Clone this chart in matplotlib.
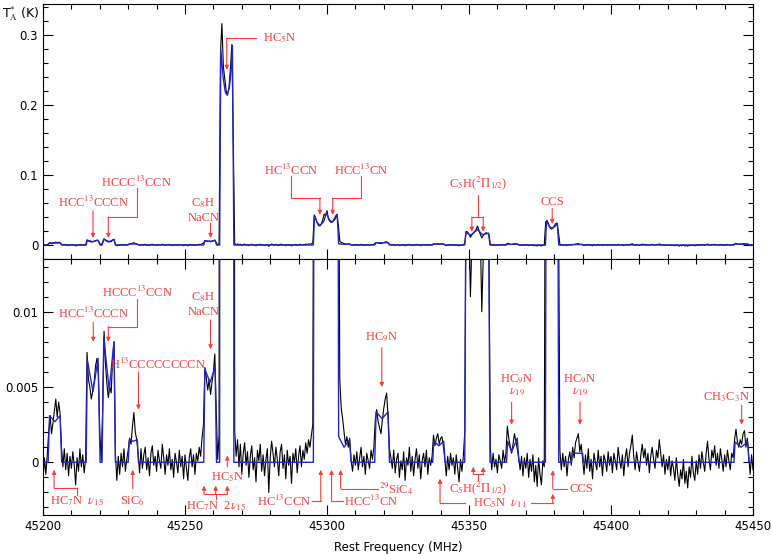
import numpy as np
import matplotlib
matplotlib.use("Agg")
import matplotlib.pyplot as plt
from matplotlib.ticker import MultipleLocator

# observed spectrum, mK, 0.5 MHz channels starting at 45200 MHz
chan0_mhz = 45200.0
chan_mhz = 0.5
obs_mk = [
    -1.2, 0.3, -0.8, 0.5, 2.0, 3.1, 1.9, 2.6, 3.4, 4.2, 3.0, 4.0, 3.3, 1.0, -0.3, 0.9, -0.5, 0.6, -0.9, 0.4,
    -0.4, 0.7, -0.2, -1.5, 0.3, -0.6, 0.9, -0.3, 0.5, -0.7, 0.2, 7.3, 5.5, 5.0, 4.2, 4.7, 5.3, 6.4, 6.9, 5.8,
    2.0, 0.1, 3.5, 8.7, 6.5, 5.2, 4.3, 5.0, 4.6, 6.8, 8.0, 0.5, -1.2, 0.4, -0.8, 0.6, -0.3, 0.9, -0.6, 0.2,
    0.8, 1.6, 1.2, 2.4, 3.3, 2.0, 1.5, 0.6, -0.7, 0.9, -0.4, 0.5, 1.0, -0.5, 0.3, -0.9, 0.6, 1.1, -0.2, 0.4,
    -0.6, 0.8, 0.1, -0.4, 1.2, 0.3, -0.8, 0.5, -0.2, 0.9, -0.5, 0.2, -1.0, 0.6, 0.0, -0.7, 0.8, -0.3, 0.4, -1.1,
    0.5, -0.4, -1.2, 0.3, 0.9, -0.3, 0.5, -0.8, 0.6, 0.1, 1.0, 0.4, 1.6, 2.5, 6.3, 5.6, 4.8, 5.5, 4.5, 5.3,
    6.0, 7.2, 3.5, 0.2, 1.8, 275, 316, 255, 238, 220, 214, 226, 252, 286, 140, 2.1, 0.4, 1.5, -0.3, 1.2,
    -0.8, 0.6, 1.3, -0.2, 0.7, -1.0, 0.4, 1.1, -0.5, 0.3, -1.3, 0.8, 0.1, 1.2, -0.6, 0.5, -0.9, 0.2, 0.9, -2.0,
    0.3, 1.4, 0.6, -0.3, 1.0, 0.2, -0.9, 0.7, 1.2, -0.4, 0.5, -1.1, 0.8, -0.2, 0.4, -1.4, 0.6, 0.0, 0.9, -0.7,
    0.4, 1.1, -0.3, 0.8, 0.2, 1.3, 0.6, 1.5, 1.0, 1.8, 2.5, 43, 38, 32, 28, 27, 30, 36, 44, 42,
    49, 37, 34, 32, 33, 37, 41, 44, 28, 5.5, 3.6, 2.9, 2.0, 1.2, 1.7, 1.0, 1.6, 0.1, -0.6, 0.5,
    -0.2, 0.7, -0.5, 0.3, 1.0, -0.3, 0.4, -0.8, 0.6, 0.1, -0.4, 0.8, 0.2, 1.0, 2.8, 3.5, 2.7, 2.3, 1.9, 2.8,
    3.6, 4.2, 4.6, 3.0, 0.9, 0.3, -0.4, 0.8, -0.7, 0.2, 0.6, -1.0, 0.1, -0.5, 0.7, -1.2, 0.3, -0.2, 1.0, -0.6,
    0.4, -0.9, 0.2, 0.9, -0.4, 0.5, -1.1, 0.1, 0.6, -0.3, 0.8, -0.8, 0.3, -0.2, 0.4, 1.8, 1.1, 1.6, 1.9, 1.2,
    1.6, 1.7, 1.0, 0.2, -0.9, 0.4, -0.5, 0.6, -0.2, 0.3, -0.8, 0.5, -0.4, -1.3, 0.2, -0.6, 0.4, 2.0, 19.5, 18.5,
    15.5, 11.0, 14.5, 17.0, 19.5, 22.0, 27.0, 20.5, 15.0, 10.0, 13.5, 16.0, 17.5, 16.5, 15.0, 1.0, -0.5, 0.6, -0.3, 0.2,
    -0.7, 0.5, 0.1, -0.4, 0.8, 0.0, 0.6, 2.4, 1.6, 1.1, 0.6, 1.2, 1.9, 1.4, 0.9, 0.3, -0.5, 0.4, -0.9, 0.3,
    -0.4, 0.6, -1.0, 0.2, -0.6, 0.5, -1.3, -0.2, -1.6, 0.3, -0.8, -1.5, 0.1, -0.3, 33.0, 35.0, 30.0, 25.0, 22.5, 24.0,
    27.0, 30.5, 31.0, 18.0, 0.8, -0.5, 0.6, -0.3, 0.4, -0.9, 0.2, 0.7, -0.2, 1.0, 0.3, 1.3, 1.6, 1.9, 0.7, 1.2,
    0.2, -0.8, 0.5, -0.4, 0.9, -0.6, 0.2, -1.1, 0.6, 0.0, -0.5, 0.8, -0.3, 0.4, -0.9, 0.5, 0.1, -0.6, 0.7, -0.2,
    0.4, -0.7, 0.6, 0.1, -0.5, 1.0, 0.2, -0.4, 0.5, -0.9, 0.3, 0.9, -0.3, 0.6, 1.1, 1.8, 0.4, -0.5, 0.7, 0.0,
    -0.6, 0.5, 1.2, 0.3, 0.9, -0.2, 0.6, -0.7, 0.4, 1.0, 0.2, -0.4, 0.8, 0.3, 1.5, 0.6, -0.3, 0.5, -0.8, 0.2,
    -0.5, 0.4, -0.9, 0.1, -0.4, -1.2, 0.3, -0.8, -1.6, -0.5, -1.1, 0.2, -1.4, -0.6, -1.7, -0.3, -1.0, 0.4, -0.7, -1.2,
    0.1, -0.8, 0.5, -0.4, 0.7, 0.0, -0.6, 0.6, 1.4, 0.2, -0.5, 0.8, 0.3, 1.1, -0.2, 0.6, -0.4, 0.9, 0.2, -0.6,
    0.5, -0.3, 0.8, 0.1, -0.5, 0.6, 0.3, 1.5, 2.2, 1.4, 1.0, 1.5, 1.2, 1.9, 2.1, 1.0, 1.6, 0.4, -0.8, 0.5,
    -0.5,
]

# fitted line model (blue), breakpoints in MHz / mK
model_freq = [
    45200.0, 45201.8, 45202.3, 45204.2, 45206.0, 45206.6,
    45215.2, 45215.6, 45217.6, 45219.4, 45220.1,
    45220.8, 45221.4, 45223.3, 45225.0, 45225.5,
    45230.0, 45230.4, 45231.8, 45233.2, 45233.6,
    45256.6, 45257.0, 45258.8, 45260.6, 45261.1,
    45262.2, 45262.6, 45263.4, 45264.2, 45264.8, 45265.6, 45266.2, 45266.7, 45267.2,
    45295.2, 45295.6, 45296.5, 45297.5, 45298.8, 45299.8, 45300.8, 45301.7, 45302.7, 45303.6,
    45304.1, 45306.0, 45307.9, 45308.5,
    45316.8, 45317.3, 45319.4, 45321.5, 45322.0,
    45337.2, 45337.6, 45339.4, 45341.1, 45341.6,
    45348.5, 45348.9, 45350.6, 45353.0, 45354.8, 45356.9, 45357.4,
    45363.2, 45363.6, 45365.0, 45367.0, 45367.6,
    45376.9, 45377.3, 45378.2, 45379.2, 45380.2, 45381.1, 45381.6,
    45386.1, 45386.4, 45390.0, 45390.3,
    45443.3, 45443.7, 45445.8, 45448.1, 45448.6, 45450.0,
]
model_mk = [
    0, 0, 3.1, 2.7, 3.1, 0,
    0, 6.8, 4.7, 6.9, 0,
    0, 8.3, 4.8, 8.0, 0,
    0, 1.5, 1.4, 1.5, 0,
    0, 6.2, 5.3, 6.3, 0,
    0, 279, 240, 218, 214, 224, 248, 285, 0,
    0, 42, 32, 28, 33, 46, 36, 33, 36, 43,
    1.7, 1.0, 1.5, 0,
    0, 3.35, 2.9, 3.35, 0,
    0, 1.4, 1.1, 1.4, 0,
    0, 18, 14, 22, 14.5, 17, 0,
    0, 1.4, 0.7, 1.6, 0,
    0, 34, 27, 24, 26, 31, 0,
    0, 0.6, 0.6, 0,
    0, 1.35, 1.0, 1.35, 0, 0,
]
freq_ticks = [45200, 45250, 45300, 45350, 45400, 45450]

RED = "#ff3a3a"
BLUE = "#2424c8"
LBL = dict(color=RED, fontsize=9, family="Liberation Serif")

plt.rcParams["mathtext.fontset"] = "stix"
plt.rcParams["font.size"] = 8.5

freq = chan0_mhz + chan_mhz * np.arange(len(obs_mk))
obs_k = np.array(obs_mk) / 1000.0
model_k = np.array(model_mk) / 1000.0

fig = plt.figure(figsize=(7.72, 5.54), dpi=100)
ax1 = fig.add_axes([0.0557, 0.5325, 0.9197, 0.4603])
ax2 = fig.add_axes([0.0557, 0.0704, 0.9197, 0.4621])

for ax in (ax1, ax2):
    ax.plot(freq, obs_k, color="black", lw=0.8)
    ax.plot(model_freq, model_k, color=BLUE, lw=1.0)
    ax.set_xticks(freq_ticks)
    ax.xaxis.set_minor_locator(MultipleLocator(10))
    ax.set_xlim(45200, 45450)
    ax.tick_params(which="both", direction="in", top=True, right=True, labelsize=8.5)
    ax.tick_params(which="major", length=7, width=0.8)
    ax.tick_params(which="minor", length=3.5, width=0.8)
    for s in ax.spines.values():
        s.set_linewidth(0.8)

ax1.set_ylim(-0.02, 0.344)
ax1.set_yticks([0, 0.1, 0.2, 0.3])
ax1.set_yticklabels(["0", "0.1", "0.2", "0.3"])
ax1.yaxis.set_minor_locator(MultipleLocator(0.02))
ax1.tick_params(labelbottom=False)

ax2.set_ylim(-0.0035, 0.0135)
ax2.set_yticks([0, 0.005, 0.01])
ax2.set_yticklabels(["0", "0.005", "0.01"])
ax2.yaxis.set_minor_locator(MultipleLocator(0.001))
ax2.set_xticklabels([str(t) for t in freq_ticks])
ax2.set_xlabel("Rest Frequency (MHz)", fontsize=8.5, labelpad=6)

fig.text(0.003, 0.975, r"T$_\mathrm{A}^{*}$ (K)", fontsize=9, va="center", ha="left")


def arrow(ax, x, y0, y1, s=1.0):
    ax.annotate("", xy=(x, y1 * s), xytext=(x, y0 * s),
                arrowprops=dict(arrowstyle="-|>", color=RED, lw=0.8,
                                mutation_scale=6, shrinkA=0, shrinkB=0))


def path(ax, xs, ys, s=1.0):
    ax.plot(xs, [y * s for y in ys], color=RED, lw=0.8)


def label(ax, x, y, txt, s=1.0, ha="center"):
    ax.text(x, y * s, txt, ha=ha, va="center", **LBL)


# top panel labels (K)
label(ax1, 45217.6, 0.061, r"HCC$^{13}$CCCN")
arrow(ax1, 45217.6, 0.049, 0.010)
label(ax1, 45233.0, 0.089, r"HCCC$^{13}$CCN")
path(ax1, [45233.0, 45233.0, 45223.0], [0.081, 0.040, 0.040])
arrow(ax1, 45223.0, 0.040, 0.010)
label(ax1, 45256.4, 0.060, r"C$_8$H")
label(ax1, 45256.4, 0.039, "NaCN")
arrow(ax1, 45259.0, 0.031, 0.010)
label(ax1, 45277.6, 0.295, r"HC$_5$N", ha="left")
path(ax1, [45275.0, 45264.7], [0.295, 0.295])
arrow(ax1, 45264.7, 0.295, 0.250)
label(ax1, 45287.3, 0.106, r"HC$^{13}$CCN")
path(ax1, [45287.3, 45287.3, 45297.5], [0.098, 0.067, 0.067])
arrow(ax1, 45297.5, 0.067, 0.043)
label(ax1, 45312.0, 0.106, r"HCC$^{13}$CN")
path(ax1, [45312.0, 45312.0, 45302.0], [0.098, 0.067, 0.067])
arrow(ax1, 45302.0, 0.067, 0.043)
label(ax1, 45353.3, 0.088, r"C$_5$H($^2\Pi_{1/2}$)")
path(ax1, [45353.1, 45353.1], [0.072, 0.040])
path(ax1, [45351.0, 45355.0], [0.040, 0.040])
arrow(ax1, 45351.0, 0.040, 0.019)
arrow(ax1, 45355.0, 0.040, 0.019)
label(ax1, 45379.3, 0.061, "CCS")
arrow(ax1, 45379.3, 0.052, 0.030)

# bottom panel labels (mK -> K)
m = 1e-3
label(ax2, 45217.7, 9.87, r"HCC$^{13}$CCCN", m)
arrow(ax2, 45217.7, 9.3, 8.0, m)
label(ax2, 45233.2, 11.3, r"HCCC$^{13}$CCN", m)
path(ax2, [45233.2, 45233.2, 45223.0], [10.85, 9.0, 9.0], m)
arrow(ax2, 45223.0, 9.0, 8.0, m)
label(ax2, 45240.6, 6.47, r"H$^{13}$CCCCCCCCN", m)
arrow(ax2, 45233.6, 6.0, 3.5, m)
label(ax2, 45256.4, 11.0, r"C$_8$H", m)
label(ax2, 45256.4, 10.0, "NaCN", m)
arrow(ax2, 45259.0, 9.45, 7.5, m)
label(ax2, 45319.4, 8.3, r"HC$_9$N", m)
arrow(ax2, 45319.3, 7.6, 5.0, m)
for fx, ax_ in ((45366.8, 45365.0), (45389.1, 45389.1)):
    label(ax2, fx, 5.5, r"HC$_9$N", m)
    label(ax2, fx, 4.7, r"$\nu_{19}$", m)
    arrow(ax2, ax_, 4.0, 2.5, m)
label(ax2, 45440.7, 4.35, r"CH$_3$C$_3$N", m)
arrow(ax2, 45446.0, 3.8, 2.5, m)

arrow(ax2, 45203.9, -1.7, -0.5, m)
path(ax2, [45203.9, 45212.1, 45212.1], [-1.7, -1.7, -2.15], m)
label(ax2, 45212.1, -2.58, r"HC$_7$N  $\nu_{15}$", m)
arrow(ax2, 45231.6, -1.75, -0.5, m)
label(ax2, 45231.6, -2.55, r"SiC$_6$", m)
for fx in (45256.7, 45260.8, 45264.9):
    arrow(ax2, fx, -2.1, -1.55, m)
path(ax2, [45256.7, 45264.9], [-2.1, -2.1], m)
path(ax2, [45260.8, 45260.8], [-2.1, -2.45], m)
label(ax2, 45260.8, -2.93, r"HC$_7$N  2$\nu_{15}$", m)
label(ax2, 45264.9, -1.0, r"HC$_5$N", m)
arrow(ax2, 45264.9, -0.3, 0.45, m)
arrow(ax2, 45297.8, -2.6, -0.5, m)
path(ax2, [45297.8, 45294.6], [-2.6, -2.6], m)
label(ax2, 45294.3, -2.6, r"HC$^{13}$CCN", m, ha="right")
arrow(ax2, 45301.6, -2.6, -0.5, m)
path(ax2, [45301.6, 45305.5], [-2.6, -2.6], m)
label(ax2, 45305.9, -2.6, r"HCC$^{13}$CN", m, ha="left")
arrow(ax2, 45304.8, -1.75, -0.5, m)
path(ax2, [45304.8, 45318.0], [-1.75, -1.75], m)
label(ax2, 45318.3, -1.72, r"$^{29}$SiC$_4$", m, ha="left")
arrow(ax2, 45351.5, -0.76, -0.3, m)
arrow(ax2, 45355.0, -0.76, -0.3, m)
path(ax2, [45351.5, 45355.0], [-0.76, -0.76], m)
path(ax2, [45353.3, 45353.3], [-0.76, -1.2], m)
label(ax2, 45353.3, -1.72, r"C$_5$H($^2\Pi_{1/2}$)", m)
arrow(ax2, 45339.8, -2.7, -1.09, m)
path(ax2, [45339.8, 45348.5], [-2.7, -2.7], m)
label(ax2, 45360.9, -2.7, r"HC$_5$N  $\nu_{11}$", m)
path(ax2, [45372.0, 45379.5], [-2.7, -2.7], m)
arrow(ax2, 45379.5, -2.7, -2.09, m)
arrow(ax2, 45379.5, -1.75, -0.53, m)
path(ax2, [45379.5, 45384.6], [-1.75, -1.75], m)
label(ax2, 45385.3, -1.75, "CCS", m, ha="left")

fig.savefig("out.png", dpi=100)
